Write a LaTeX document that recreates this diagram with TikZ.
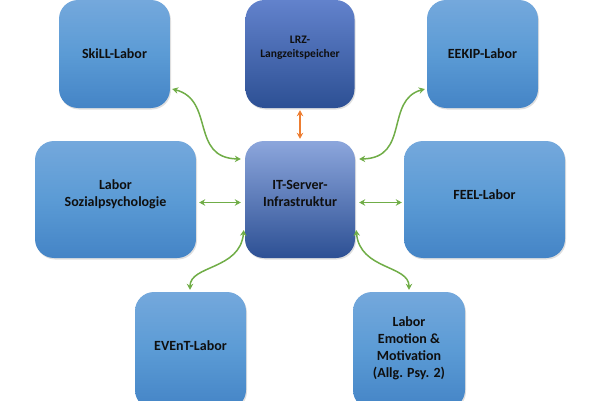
\documentclass[tikz,border=0pt]{standalone}
\usepackage{fontspec}
\setmainfont{Carlito}
\usetikzlibrary{arrows.meta,shadows}
\definecolor{boxtop}{RGB}{116,168,220}
\definecolor{boxmid}{RGB}{91,155,213}
\definecolor{boxbot}{RGB}{68,132,198}
\definecolor{dtop}{RGB}{140,166,220}
\definecolor{dtopb}{RGB}{98,130,204}
\definecolor{dmid}{RGB}{68,114,196}
\definecolor{dbot}{RGB}{45,80,148}
\definecolor{linkgreen}{RGB}{112,173,71}
\definecolor{linkorange}{RGB}{237,125,49}
\definecolor{txt}{RGB}{15,15,15}
\tikzset{
  labbox/.style={rounded corners=19pt, draw=none, align=center, text=txt,
    font=\bfseries\fontsize{14}{17}\selectfont,
    top color=boxtop, bottom color=boxbot, middle color=boxmid,
    drop shadow={shadow xshift=1pt,shadow yshift=-1.5pt,opacity=0.25},
    inner sep=0pt},
  darkbox/.style={labbox, top color=dtop, middle color=dmid, bottom color=dbot},
  link/.style={draw=linkgreen, line width=1.5pt, {Stealth[length=6pt,width=6.5pt,inset=2pt]}-{Stealth[length=6pt,width=6.5pt,inset=2pt]}},
  olink/.style={link, draw=linkorange}
}
\begin{document}
\begin{tikzpicture}[x=1pt,y=1pt]
\useasboundingbox (0,0) rectangle (600,400);
\clip (0,0) rectangle (600,400);
\node[labbox, minimum width=111pt, minimum height=108pt] (skill) at (114.5,346) {SkiLL-Labor};
\node[labbox, minimum width=161pt, minimum height=117pt, text depth=13pt] (sozial) at (115.5,200.5) {Labor\\Sozialpsychologie};
\node[darkbox, top color=dtopb, minimum width=109pt, minimum height=108pt, text depth=15pt, font=\bfseries\fontsize{11.5}{14}\selectfont] (lrz) at (300,346) {LRZ-\\Langzeitspeicher};
\node[darkbox, minimum width=110pt, minimum height=117pt, text depth=13pt] (it) at (300,200.5) {IT-Server-\\Infrastruktur};
\node[labbox, minimum width=111pt, minimum height=108pt] (eekip) at (482.5,346) {EEKIP-Labor};
\node[labbox, minimum width=161pt, minimum height=117pt, text depth=9pt] (feel) at (484.5,200.5) {FEEL-Labor};
\node[labbox, minimum width=111pt, minimum height=117pt, text depth=9pt] (event) at (190.5,49.5) {EVEnT-Labor};
\node[labbox, minimum width=112pt, minimum height=117pt, text depth=7pt] (emot) at (409,49.5) {Labor\\Emotion \&\\Motivation\\(Allg. Psy. 2)};

\draw[olink, shorten <=2pt, shorten >=2pt] (lrz.south) -- (it.north);
\draw[link] ([xshift=3pt,yshift=-3pt]sozial.east) -- ([xshift=-4pt,yshift=-3pt]it.west);
\draw[link] ([xshift=4pt,yshift=-3pt]it.east) -- ([xshift=-2pt,yshift=-3pt]feel.west);
\draw[link] ([xshift=2pt,yshift=-35pt]skill.east) .. controls (215,300) and (190,242) .. ([xshift=-4pt,yshift=40.5pt]it.west);
\draw[link] ([xshift=-2pt,yshift=-35pt]eekip.west) .. controls (385,300) and (410,242) .. ([xshift=4pt,yshift=40.5pt]it.east);
\draw[link] ([xshift=-1pt,yshift=-30.5pt]it.west) .. controls (240,130) and (190,135) .. ([xshift=-0.5pt,yshift=2pt]event.north);
\draw[link] ([xshift=1pt,yshift=-30.5pt]it.east) .. controls (360,130) and (409,135) .. ([yshift=2pt]emot.north);
\end{tikzpicture}
\end{document}
